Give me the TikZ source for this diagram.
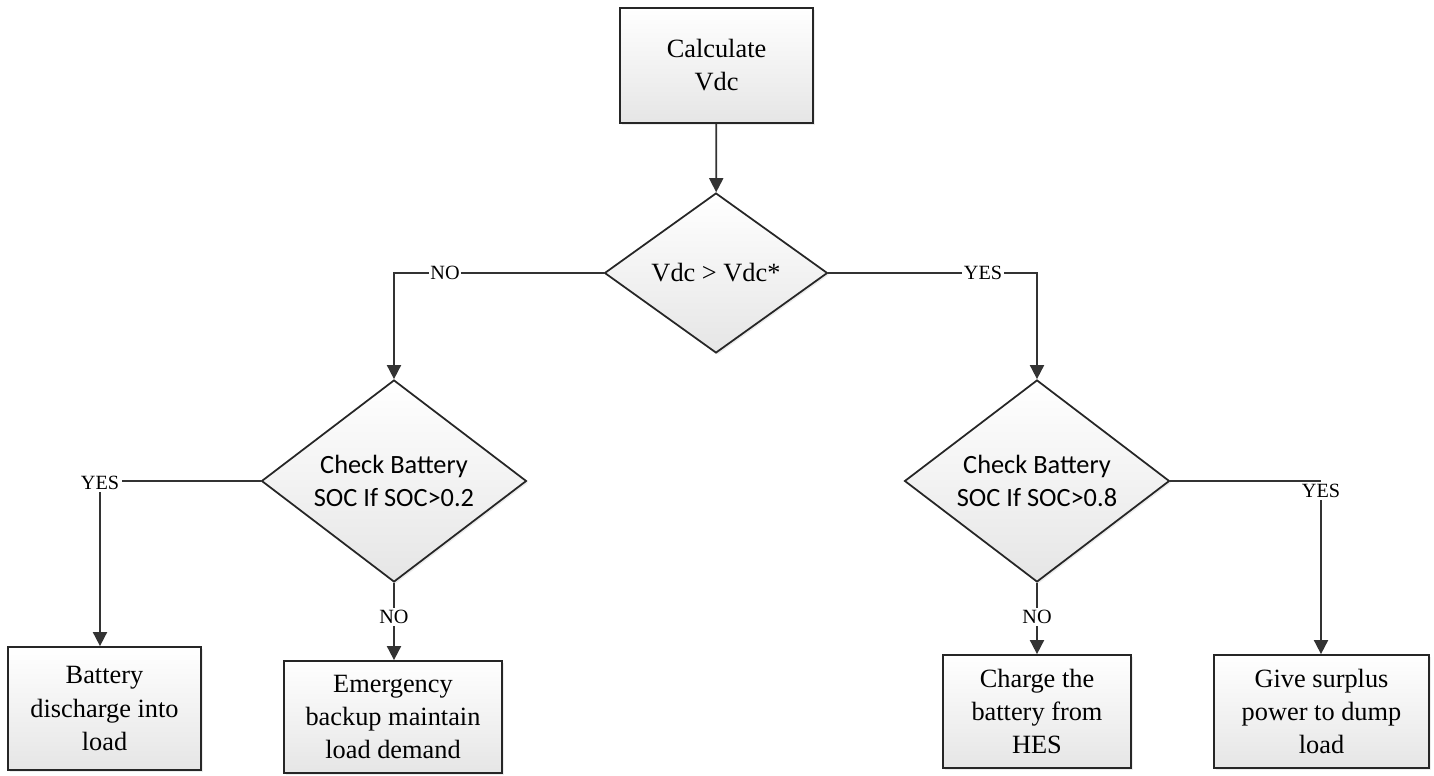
\documentclass[tikz,border=0pt]{standalone}
\usepackage{fontspec}
\setmainfont{Liberation Serif}
\newfontfamily\diafont{Carlito}
\usetikzlibrary{shapes.geometric,arrows.meta,shadows}

\begin{document}
\begin{tikzpicture}[x=0.02cm, y=-0.02cm,
	line width=1pt, draw=black!80,
	flowbox/.style={draw=black!85, rectangle, align=center, inner sep=0pt,
		top color=white, bottom color=black!10,
		drop shadow={shadow xshift=1pt, shadow yshift=-1pt, opacity=0.15},
		font=\fontsize{15}{18.8}\selectfont},
	decide/.style={draw=black!85, diamond, align=center, inner sep=0pt,
		top color=white, bottom color=black!10,
		drop shadow={shadow xshift=1pt, shadow yshift=-1pt, opacity=0.15},
		font=\diafont\fontsize{15}{18.8}\selectfont},
	answer/.style={fill=white, inner sep=1pt, font=\fontsize{11.5}{13}\selectfont},
	flow/.style={-{Triangle[length=8pt, width=8pt]}}]
\useasboundingbox (0,0) rectangle (1434,776);

% boxes and decisions
\node[flowbox, minimum width=3.86cm, minimum height=2.3cm] (calc) at (716.5,65.5) {Calculate\\Vdc};
\node[decide, minimum width=4.46cm, minimum height=3.2cm, aspect=1.39,
	font=\fontsize{15}{18.8}\selectfont] (vdc) at (716,273) {Vdc > Vdc*};
\node[decide, minimum width=5.3cm, minimum height=4.04cm, aspect=1.31] (socL) at (394,481) {Check Battery\\SOC If SOC>0.2};
\node[decide, minimum width=5.3cm, minimum height=4.04cm, aspect=1.31] (socH) at (1037,481) {Check Battery\\SOC If SOC>0.8};

\node[flowbox, minimum width=3.86cm, minimum height=2.46cm] (discharge) at (104.5,708.5) {Battery\\discharge into\\load};
\node[flowbox, minimum width=4.36cm, minimum height=2.24cm] (backup) at (393,717) {Emergency\\backup maintain\\load demand};
\node[flowbox, minimum width=3.76cm, minimum height=2.26cm] (charge) at (1037,711.5) {Charge the\\battery from\\HES};
\node[flowbox, minimum width=4.3cm, minimum height=2.26cm] (dump) at (1321.5,711.5) {Give surplus\\power to dump\\load};

% connectors
\draw[flow] (calc) -- (vdc);
\draw[flow] (vdc.west) -| (socL.north);
\draw[flow] (vdc.east) -| (socH.north);
\node[answer] (noVdc) at (445,273) {NO};
\node[answer] (yesVdc) at (983,273) {YES};

\node[answer] (yesL) at (100,483) {YES};
\draw (socL.west) -- (yesL.east |- socL.west);
\draw[flow] (yesL.south) -- (yesL.south |- discharge.north);

\draw[flow] (socL.south) -- (socL.south |- backup.north);
\node[answer] (noL) at (394,617) {NO};

\draw[flow] (socH.south) -- (charge.north);
\node[answer] (noH) at (1037,617) {NO};

\node[answer, anchor=north] (yesH) at (1321,481) {YES};
\draw (socH.east) -- (socH.east -| yesH.north);
\draw[flow] (yesH.south) -- (yesH.south |- dump.north);
\end{tikzpicture}
\end{document}
